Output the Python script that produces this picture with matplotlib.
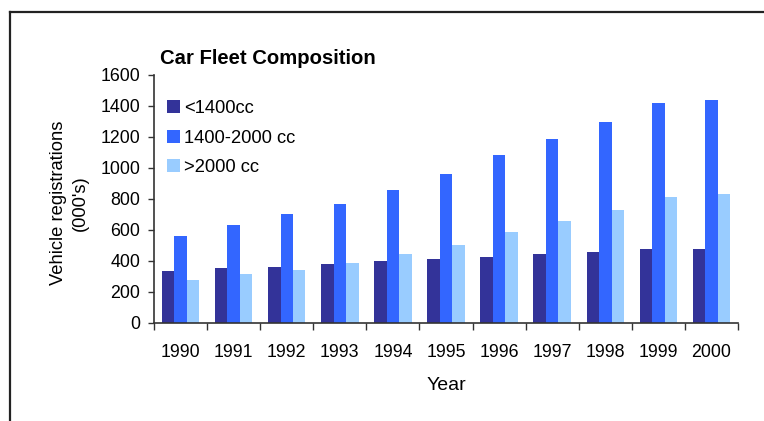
import numpy as np
import matplotlib.pyplot as plt
from matplotlib.lines import Line2D

plt.rcParams['font.family'] = ['Liberation Sans', 'DejaVu Sans']

# Registros de vehiculos por cilindrada (miles)
years = ['1990', '1991', '1992', '1993', '1994', '1995',
         '1996', '1997', '1998', '1999', '2000']
small = [337, 356, 363, 382, 402, 414, 427, 447, 460, 479, 479]
medium = [563, 634, 704, 769, 859, 962, 1085, 1188, 1297, 1420, 1439]
large = [279, 318, 344, 389, 447, 505, 588, 659, 730, 814, 833]
series_names = ['<1400cc', '1400-2000 cc', '>2000 cc']
colores = ['#333399', '#3366FF', '#99CCFF']

fig = plt.figure(figsize=(7.64, 4.21), dpi=100)
ax = fig.add_axes([0.2016, 0.2328, 0.7644, 0.5891])

x = np.arange(len(years))
w = 0.235
for i, (vals, nombre) in enumerate(zip([small, medium, large], series_names)):
    ax.bar(x + (i - 1) * w, vals, width=w, color=colores[i], label=nombre)

ax.set_xlim(-0.5, len(years) - 0.5)
ax.set_ylim(0, 1600)
ax.set_yticks(np.arange(0, 1601, 200))
ax.set_xticks(x)
ax.set_xticklabels(years)
ax.set_xticks(np.arange(-0.5, len(years)), minor=True)
ax.tick_params(axis='x', which='major', length=0, pad=15, labelsize=12.8)
ax.tick_params(axis='x', which='minor', length=5, width=1, color='#333333')
ax.tick_params(axis='y', length=4, width=1, color='#333333', pad=6, labelsize=12.8)

for lado in ['top', 'right']:
    ax.spines[lado].set_visible(False)
for lado in ['left', 'bottom']:
    ax.spines[lado].set_color('#333333')
    ax.spines[lado].set_linewidth(1.2)

ax.set_xlabel('Year', fontsize=14, labelpad=12)
fig.text(0.091, 0.518, 'Vehicle registrations\n(000\'s)', rotation=90,
         ha='center', va='center', fontsize=13.2, linespacing=1.35)
fig.text(160 / 764, 1 - 59 / 421, 'Car Fleet Composition', fontsize=14.6,
         fontweight='bold', ha='left', va='center')

ax.legend(loc='upper left', bbox_to_anchor=(0.0, 0.95), frameon=False,
          fontsize=13.2, handlelength=0.72, handleheight=0.72,
          handletextpad=0.2, labelspacing=0.68, borderaxespad=0.3)

# Marco exterior (solo visible arriba y a la izquierda)
fig.add_artist(Line2D([9.5 / 764, 9.5 / 764], [0, 1 - 12 / 421],
                      color='#222222', lw=1.6, transform=fig.transFigure))
fig.add_artist(Line2D([9.5 / 764, 1], [1 - 12 / 421, 1 - 12 / 421],
                      color='#222222', lw=1.6, transform=fig.transFigure))

fig.savefig('out.png', dpi=100)
